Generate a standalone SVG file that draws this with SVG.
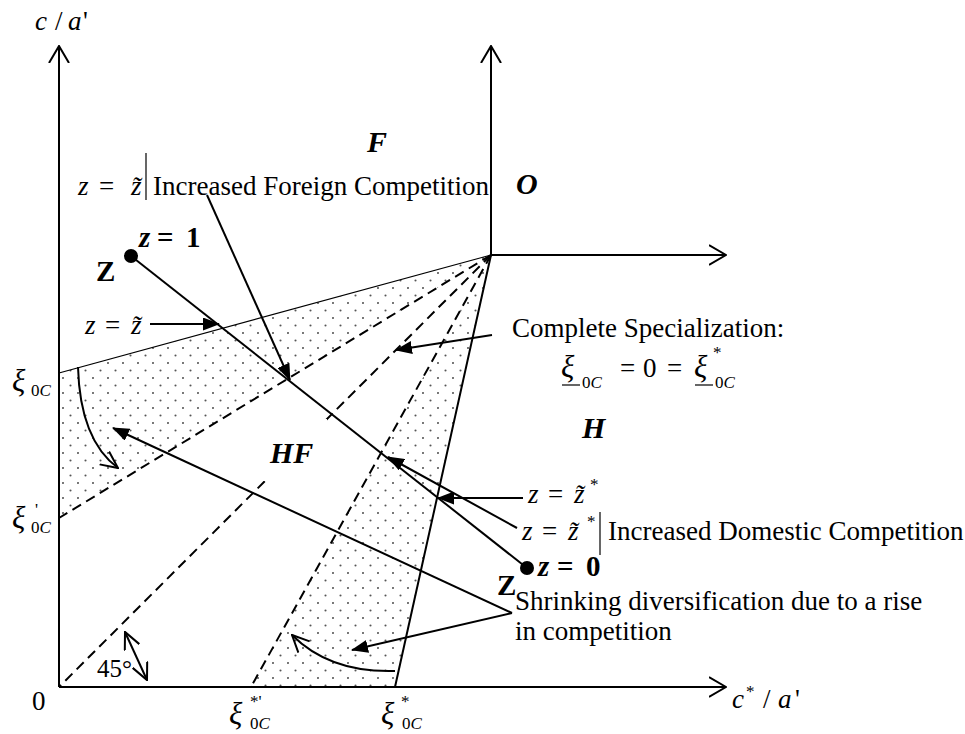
<svg xmlns="http://www.w3.org/2000/svg" width="965" height="734" viewBox="0 0 965 734" font-family="Liberation Serif, Times New Roman, serif">
<style>
text{font-family:"Liberation Serif","Times New Roman",serif;fill:#000}
.t{font-size:27px}
.i{font-style:italic}
.b{font-weight:bold}
.xi{font-size:31px;font-style:italic}
.sub{font-size:17px}
.sup{font-size:17px}
.zb{font-size:29px;font-weight:bold}
.rg{font-size:30px;font-weight:bold;font-style:italic}
.ax{stroke:#000;stroke-width:2;fill:none}
.thin{stroke:#000;stroke-width:1.2;fill:none}
.dash{stroke:#000;stroke-width:2;fill:none;stroke-dasharray:10 6}
.ldf{stroke:#000;stroke-width:2;fill:none;marker-end:url(#fa)}
.bar{stroke:#000;stroke-width:1.2}
</style>
<defs>
<pattern id="dots" width="15" height="15" patternUnits="userSpaceOnUse">
<circle cx="3" cy="3" r="1.05" fill="#555"/>
<circle cx="10.5" cy="10.5" r="1.05" fill="#555"/>
</pattern>
<marker id="fa" viewBox="0 0 17 13" refX="16" refY="6.5" markerWidth="17" markerHeight="13" orient="auto" markerUnits="userSpaceOnUse">
<path d="M0,0 L17,6.5 L0,13 Z" fill="#000"/>
</marker>
<marker id="oa" viewBox="0 0 18 22" refX="17" refY="11" markerWidth="18" markerHeight="22" orient="auto" markerUnits="userSpaceOnUse">
<path d="M0,1 L17,11 L0,21" fill="none" stroke="#000" stroke-width="2"/>
</marker>
<marker id="os" viewBox="0 0 18 18" refX="17" refY="9" markerWidth="18" markerHeight="18" orient="auto-start-reverse" markerUnits="userSpaceOnUse">
<path d="M0,1 L17,9 L0,17" fill="none" stroke="#000" stroke-width="2"/>
</marker>
</defs>

<g id="shading">
<polygon points="491,255 59,373 59,518" fill="url(#dots)"/>
<polygon points="491,255 251,687 395,687" fill="url(#dots)"/>
</g>

<g id="axes">
<line class="ax" x1="59" y1="687" x2="59" y2="46" marker-end="url(#oa)"/>
<line class="ax" x1="59" y1="687" x2="726" y2="687" marker-end="url(#oa)"/>
<line class="ax" x1="491" y1="255" x2="491" y2="46" marker-end="url(#oa)"/>
<line class="ax" x1="491" y1="255" x2="726" y2="255" marker-end="url(#oa)"/>
</g>

<g id="boundaries">
<line class="thin" x1="491" y1="255" x2="59" y2="373"/>
<line class="dash" x1="491" y1="255" x2="59" y2="518"/>
<line class="dash" x1="491" y1="255" x2="59" y2="687"/>
<line class="dash" x1="491" y1="255" x2="251" y2="687"/>
<line class="ax" x1="491" y1="255" x2="395" y2="687"/>
</g>

<g id="z-line">
<line class="ax" x1="131" y1="256" x2="527" y2="568"/>
<circle cx="131" cy="256" r="7" fill="#000"/>
<circle cx="527" cy="568" r="7" fill="#000"/>
</g>

<g id="connectors">
<line class="ldf" x1="207" y1="195" x2="290" y2="380"/>
<line class="ldf" x1="150" y1="324" x2="219" y2="324"/>
<line class="ldf" x1="492" y1="335" x2="396" y2="350"/>
<line class="ldf" x1="523" y1="498" x2="438" y2="498"/>
<line class="ldf" x1="517" y1="528" x2="388" y2="457"/>
<line class="ldf" x1="512" y1="613" x2="113" y2="428"/>
<line class="ldf" x1="512" y1="613" x2="352" y2="650"/>
<path d="M78,367 Q80,440 118,468" stroke="#000" stroke-width="2" fill="none" marker-end="url(#os)"/>
<path d="M395,671 Q330,673 292,635" stroke="#000" stroke-width="2" fill="none" marker-end="url(#os)"/>
<line x1="125" y1="632" x2="147" y2="680" stroke="#000" stroke-width="2" marker-start="url(#os)" marker-end="url(#os)"/>
</g>

<g id="axis-labels">
<text class="t" x="35" y="30"><tspan class="i">c</tspan><tspan x="55">/</tspan><tspan class="i" x="68">a</tspan><tspan x="83">'</tspan></text>
<text class="t" x="732" y="708"><tspan class="i">c</tspan><tspan class="sup" x="746" dy="-11">*</tspan><tspan x="763" dy="11">/</tspan><tspan class="i" x="778">a</tspan><tspan x="795">'</tspan></text>
<text class="t" x="32" y="710">0</text>
<text style="font-size:25px" x="97" y="677">45°</text>
</g>

<g id="xi-labels">
<text x="12" y="391"><tspan class="xi">ξ</tspan><tspan class="sub" x="31" y="396">0<tspan class="i">C</tspan></tspan></text>
<text x="12" y="528"><tspan class="xi">ξ</tspan><tspan class="sub" x="35" y="515">'</tspan><tspan class="sub" x="31" y="533">0<tspan class="i">C</tspan></tspan></text>
<text x="229" y="724"><tspan class="xi">ξ</tspan><tspan class="sup" x="250" y="707">*'</tspan><tspan class="sub" x="250" y="729">0<tspan class="i">C</tspan></tspan></text>
<text x="381" y="724"><tspan class="xi">ξ</tspan><tspan class="sup" x="401" y="707">*</tspan><tspan class="sub" x="402" y="729">0<tspan class="i">C</tspan></tspan></text>
</g>

<g id="regions">
<text class="rg" x="367" y="152">F</text>
<text class="rg" x="516" y="194">O</text>
<g id="region-HF">
<rect x="263" y="419" width="64" height="62" fill="#fff"/>
<text class="rg" x="270" y="463">HF</text>
</g>
<text class="rg" x="582" y="438">H</text>
</g>

<g id="z-points">
<text class="zb" x="96" y="281">Z</text>
<text class="zb" x="139" y="247"><tspan class="i">z</tspan><tspan x="157">=</tspan><tspan x="186">1</tspan></text>
<text class="zb" x="497" y="595">Z</text>
<text class="zb" x="538" y="576"><tspan class="i">z</tspan><tspan x="557">=</tspan><tspan x="586">0</tspan></text>
</g>

<g id="label-foreign">
<text class="t" x="78" y="195"><tspan class="i">z</tspan><tspan x="99">=</tspan><tspan class="i" x="131">z̃</tspan></text>
<line class="bar" x1="146" y1="153" x2="146" y2="200"/>
<text class="t" x="153" y="195">Increased Foreign Competition</text>
</g>

<g id="label-ztilde">
<text class="t" x="85" y="334"><tspan class="i">z</tspan><tspan x="105">=</tspan><tspan class="i" x="131">z̃</tspan></text>
</g>

<g id="label-complete">
<text class="t" x="512" y="337">Complete Specialization:</text>
<text x="561" y="377"><tspan class="xi">ξ</tspan><tspan class="sub" x="582" y="388">0<tspan class="i">C</tspan></tspan></text>
<line class="bar" x1="562" y1="385" x2="580" y2="385"/>
<text class="t" x="620" y="377">=<tspan x="643">0</tspan><tspan x="667">=</tspan></text>
<text x="694" y="377"><tspan class="xi">ξ</tspan><tspan class="sup" x="713" y="358">*</tspan><tspan class="sub" x="715" y="388">0<tspan class="i">C</tspan></tspan></text>
<line class="bar" x1="695" y1="385" x2="713" y2="385"/>
</g>

<g id="label-ztilde-star">
<text class="t" x="528" y="503"><tspan class="i">z</tspan><tspan x="548">=</tspan><tspan class="i" x="574">z̃</tspan><tspan class="sup" x="590" y="490">*</tspan></text>
</g>

<g id="label-domestic">
<text class="t" x="522" y="540"><tspan class="i">z</tspan><tspan x="542">=</tspan><tspan class="i" x="568">z̃</tspan><tspan class="sup" x="587" y="527">*</tspan></text>
<line class="bar" x1="600" y1="512" x2="600" y2="555"/>
<text class="t" x="608" y="540">Increased Domestic Competition</text>
</g>

<g id="label-shrinking">
<text class="t" x="515" y="610">Shrinking diversification due to a rise</text>
<text class="t" x="515" y="640">in competition</text>
</g>
</svg>
